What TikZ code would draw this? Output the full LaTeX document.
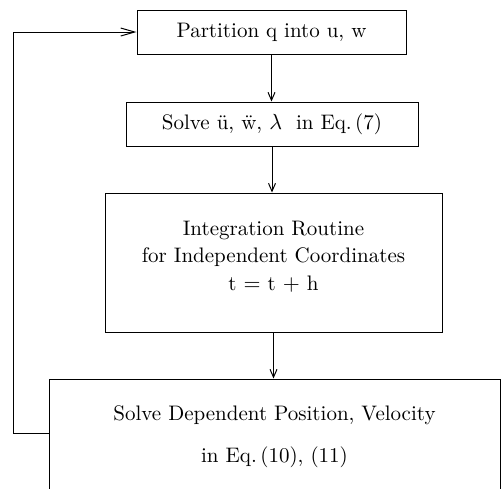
\documentclass[tikz,border=0pt]{standalone}
\usetikzlibrary{arrows.meta}
\begin{document}
\begin{tikzpicture}
  [x=0.5pt,y=-0.5pt,
   box/.style={draw,line width=0.5pt,inner sep=0pt,align=center,
     font=\fontsize{10.5}{13.8}\selectfont},
   flow/.style={line width=0.5pt,-{Straight Barb[length=4pt,width=3.5pt]}}]

  \useasboundingbox (0,0) rectangle (502,488);
  \clip (0,0) rectangle (502,488);

  \path (271.5,32)    node[box,minimum width=134.5pt,minimum height=22pt] (p) {Partition q into u, w}
        (272,124)     node[box,minimum width=146pt,minimum height=22pt] (s) {Solve \"u, \"w, $\lambda$\ \ in Eq.\,(7)}
        (273.5,262.5) node[box,minimum width=168.5pt,minimum height=69.5pt,
                           text depth=7pt] (i)
                      {Integration Routine\\ for Independent Coordinates\\ t $=$ t $+$ h}
        (274.5,437)   node[box,minimum width=225.5pt,minimum height=58pt,
                           font=\fontsize{10.5}{21}\selectfont] (d)
                      {Solve Dependent Position, Velocity\\ in Eq.\,(10), (11)};

  \coordinate (c) at (13,433);

  \draw [flow] (p.south) -- (p.south |- s.north);
  \draw [flow] (s.south) -- (s.south |- i.north);
  \draw [flow] (i.south) -- (i.south |- d.north);

  % back to the top
  \draw [line width=0.5pt,-{Straight Barb[length=7pt,width=4pt]}]
    (d.west |- c) -- (c) |- (p.west);

\end{tikzpicture}
\end{document}
